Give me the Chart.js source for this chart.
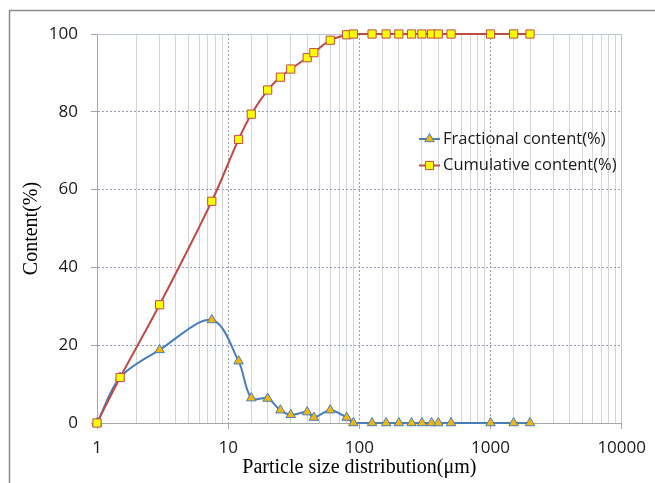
<!DOCTYPE html>
<html>
<head>
<meta charset="utf-8">
<script src="https://cdn.jsdelivr.net/npm/chart.js@4.4.1/dist/chart.umd.min.js"></script>
<style>
  html, body { margin: 0; padding: 0; background: #ffffff; }
  #wrap { width: 655px; height: 483px; }
</style>
</head>
<body>
<div id="wrap"><canvas id="psd" width="655" height="483"></canvas></div>
<script>
var sizes = [1, 1.5, 3, 7.5, 12, 15, 20, 25, 30, 40, 45, 60, 80, 90,
    125, 160, 200, 250, 300, 355, 400, 500, 1000, 1500, 2000];
var fractional = [0, 11.7, 18.8, 26.5, 15.9, 6.4, 6.3, 3.3, 2.1, 2.8, 1.4, 3.3, 1.4, 0,
    0, 0, 0, 0, 0, 0, 0, 0, 0, 0, 0];
var cumulative = [0, 11.7, 30.4, 57, 72.9, 79.4, 85.6, 88.9, 91, 93.9, 95.2, 98.4, 99.8, 100,
    100, 100, 100, 100, 100, 100, 100, 100, 100, 100, 100];
var seriesNames = ['Fractional content(%)', 'Cumulative content(%)'];
var xTitle = 'Particle size distribution(\u03bcm)';
var yTitle = 'Content(%)';

function toPoints(ys) {
    return sizes.map(function (s, i) { return { x: s, y: ys[i] }; });
}

function isDecade(v) {
    var l = Math.log10(v);
    return Math.abs(l - Math.round(l)) < 1e-9;
}

var tickFont = { family: '"Open Sans", sans-serif', size: 17 };
var titleFont = { family: '"Liberation Serif", "Times New Roman", serif', size: 20 };

var framePlugin = {
    id: 'frame',
    beforeDraw: function (chart) {
        var ctx = chart.ctx;
        ctx.save();
        ctx.fillStyle = '#ffffff';
        ctx.fillRect(0, 0, chart.width, chart.height);
        ctx.strokeStyle = '#8a8a8a';
        ctx.lineWidth = 1.5;
        ctx.strokeRect(9.5, 10.5, 800, 800);
        ctx.restore();
    }
};

var legendPlugin = {
    id: 'insideLegend',
    afterDraw: function (chart) {
        var ctx = chart.ctx;
        var x0 = 419, x1 = 440, rows = [139, 165.5];
        ctx.save();
        chart.data.datasets.forEach(function (ds, i) {
            var y = rows[i];
            ctx.strokeStyle = ds.borderColor;
            ctx.lineWidth = ds.borderWidth;
            ctx.beginPath();
            ctx.moveTo(x0, y);
            ctx.lineTo(x1, y);
            ctx.stroke();
            ctx.fillStyle = ds.pointBackgroundColor;
            ctx.strokeStyle = ds.pointBorderColor;
            ctx.lineWidth = ds.pointBorderWidth;
            Chart.helpers.drawPoint(ctx, {
                pointStyle: ds.pointStyle,
                radius: ds.pointRadius,
                rotation: 0,
                borderWidth: ds.pointBorderWidth
            }, (x0 + x1) / 2, y);
            ctx.fillStyle = '#1a1a1a';
            ctx.font = '16.5px "Open Sans", sans-serif';
            ctx.textAlign = 'left';
            ctx.textBaseline = 'middle';
            ctx.fillText(ds.label, x1 + 3, y);
        });
        ctx.restore();
    }
};

new Chart(document.getElementById('psd'), {
    type: 'line',
    data: {
        datasets: [{
            label: seriesNames[0],
            data: toPoints(fractional),
            order: 1,
            clip: false,
            borderColor: '#4a7ebb',
            borderWidth: 2,
            tension: 0.33,
            pointStyle: 'triangle',
            pointRadius: 5.5,
            pointBackgroundColor: '#f2b705',
            pointBorderColor: '#4a7ebb',
            pointBorderWidth: 1,
            fill: false
        }, {
            label: seriesNames[1],
            data: toPoints(cumulative),
            order: 0,
            clip: false,
            borderColor: '#be4b48',
            borderWidth: 2,
            tension: 0.33,
            pointStyle: 'rect',
            pointRadius: 5.8,
            pointBackgroundColor: '#ffff00',
            pointBorderColor: '#be4b48',
            pointBorderWidth: 1,
            fill: false
        }]
    },
    options: {
        responsive: false,
        animation: false,
        devicePixelRatio: 1,
        layout: { padding: { left: 0, top: 34, right: 33, bottom: 0 } },
        plugins: {
            legend: { display: false },
            tooltip: { enabled: false }
        },
        scales: {
            x: {
                type: 'logarithmic',
                min: 1,
                max: 10000,
                afterFit: function (scale) { scale.height = 60; },
                grid: {
                    color: function (c) {
                        var v = c.tick && c.tick.value;
                        if (!v) return '#d4d4d4';
                        if (v === 10000) return '#b9c3d3';
                        if (v === 1) return '#a6a6a6';
                        return isDecade(v) ? '#a0a0a0' : '#d4d4d4';
                    },
                    lineWidth: 1,
                    tickLength: 6,
                    tickColor: function (c) {
                        var v = c.tick && c.tick.value;
                        return v && isDecade(v) ? '#a6a6a6' : 'rgba(0,0,0,0)';
                    }
                },
                border: {
                    color: '#a6a6a6',
                    width: 1,
                    dash: function (c) {
                        var v = c.tick && c.tick.value;
                        if (v && isDecade(v) && v !== 1 && v !== 10000) return [2, 2];
                        return [];
                    }
                },
                ticks: {
                    autoSkip: false,
                    maxRotation: 0,
                    padding: 9,
                    color: '#1a1a1a',
                    font: tickFont,
                    callback: function (value) {
                        return isDecade(value) ? String(Math.round(value)) : '';
                    }
                },
                title: {
                    display: true,
                    text: xTitle,
                    color: '#000000',
                    font: titleFont,
                    padding: { top: 0, bottom: 3 }
                }
            },
            y: {
                min: 0,
                max: 100,
                afterFit: function (scale) { scale.width = 97; },
                grid: {
                    color: function (c) {
                        var v = c.tick && c.tick.value;
                        if (v === 100) return '#b9c3d3';
                        if (v === 0) return '#a6a6a6';
                        return '#8f9fbf';
                    },
                    lineWidth: 1,
                    tickLength: 6,
                    tickColor: '#a6a6a6'
                },
                border: {
                    color: '#a6a6a6',
                    width: 1,
                    dash: function (c) {
                        var v = c.tick && c.tick.value;
                        if (v > 0 && v < 100) return [2, 2];
                        return [];
                    }
                },
                ticks: {
                    stepSize: 20,
                    padding: 13,
                    color: '#1a1a1a',
                    font: tickFont
                },
                title: {
                    display: true,
                    text: yTitle,
                    color: '#000000',
                    font: titleFont,
                    padding: { top: 20, bottom: 0 }
                }
            }
        }
    },
    plugins: [framePlugin, legendPlugin]
});
</script>
</body>
</html>
